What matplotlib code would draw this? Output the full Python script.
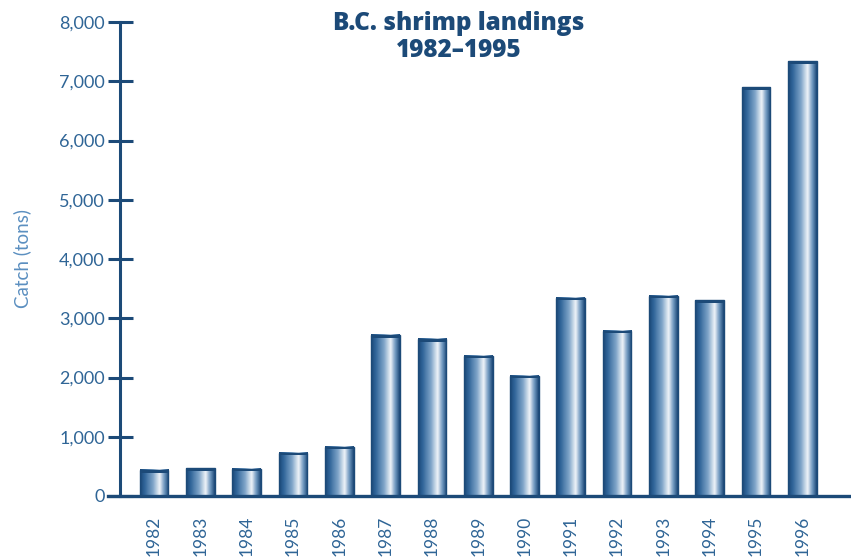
import matplotlib.pyplot as plt
import numpy as np
from matplotlib.colors import LinearSegmentedColormap
from matplotlib.patches import Rectangle

years = ["1982", "1983", "1984", "1985", "1986", "1987", "1988", "1989",
         "1990", "1991", "1992", "1993", "1994", "1995", "1996"]
catch = [440, 470, 460, 730, 830, 2720, 2650, 2370,
         2030, 3350, 2790, 3380, 3300, 6900, 7340]
yticks = [0, 1000, 2000, 3000, 4000, 5000, 6000, 7000, 8000]

navy = "#1c4a78"
text_blue = "#2f6596"
label_blue = "#5b8fc0"

plt.rcParams["font.family"] = ["Lato", "DejaVu Sans"]

fig = plt.figure(figsize=(8.51, 5.59), dpi=100)
W, H = 851, 559
ax = fig.add_axes([120 / W, 63 / H, (851 - 120) / W, (537 - 63) / H])

# cylinder-style shading across each bar
cyl = LinearSegmentedColormap.from_list(
    "cyl", [(0.0, "#1b4877"), (0.15, "#2f6498"), (0.45, "#7fa5c9"),
            (0.68, "#eef3f8"), (0.85, "#6f97bf"), (1.0, "#1b4877")])
grad = np.linspace(0, 1, 64).reshape(1, -1)

x = np.arange(len(years))
w = 0.62
for xi, v in zip(x, catch):
    ax.imshow(grad, extent=[xi - w / 2, xi + w / 2, 0, v], aspect="auto",
              cmap=cyl, zorder=2, interpolation="bilinear")
    ax.add_patch(Rectangle((xi - w / 2, 0), w, v, fill=False,
                           edgecolor=navy, linewidth=1.0, zorder=3))
    # darker cap on top of the bar
    ax.add_patch(Rectangle((xi - w / 2, v - 45), w, 45, color=navy,
                           linewidth=0, zorder=3))

ax.set_xlim(-0.734, 15.05)
ax.set_ylim(0, 8000)

for s in ["top", "right", "bottom"]:
    ax.spines[s].set_visible(False)
ax.spines["left"].set_color(navy)
ax.spines["left"].set_linewidth(2.2)
ax.axhline(0, xmin=-0.016, xmax=1, color=navy, linewidth=2.4,
           clip_on=False, zorder=4)

ax.set_yticks(yticks)
ax.set_yticklabels([f"{t:,}" for t in yticks])
ax.tick_params(axis="y", direction="inout", length=18, width=2.2,
               color=navy, labelcolor=text_blue, labelsize=13, pad=2)
ax.set_xticks(x)
ax.set_xticklabels(years, rotation=90)
ax.tick_params(axis="x", length=0, labelcolor=text_blue, labelsize=12.5,
               pad=14)

ax.set_ylabel("Catch (tons)", color=label_blue, fontsize=13.5, labelpad=20)

fig.text(459 / W, 1 - 37 / H, "B.C. shrimp landings\n1982\u20131995",
         ha="center", va="center", fontsize=17.5, fontweight="heavy",
         family=["Open Sans", "DejaVu Sans"],
         color=navy, linespacing=1.15, transform=fig.transFigure)

fig.savefig("out.png", dpi=100)
